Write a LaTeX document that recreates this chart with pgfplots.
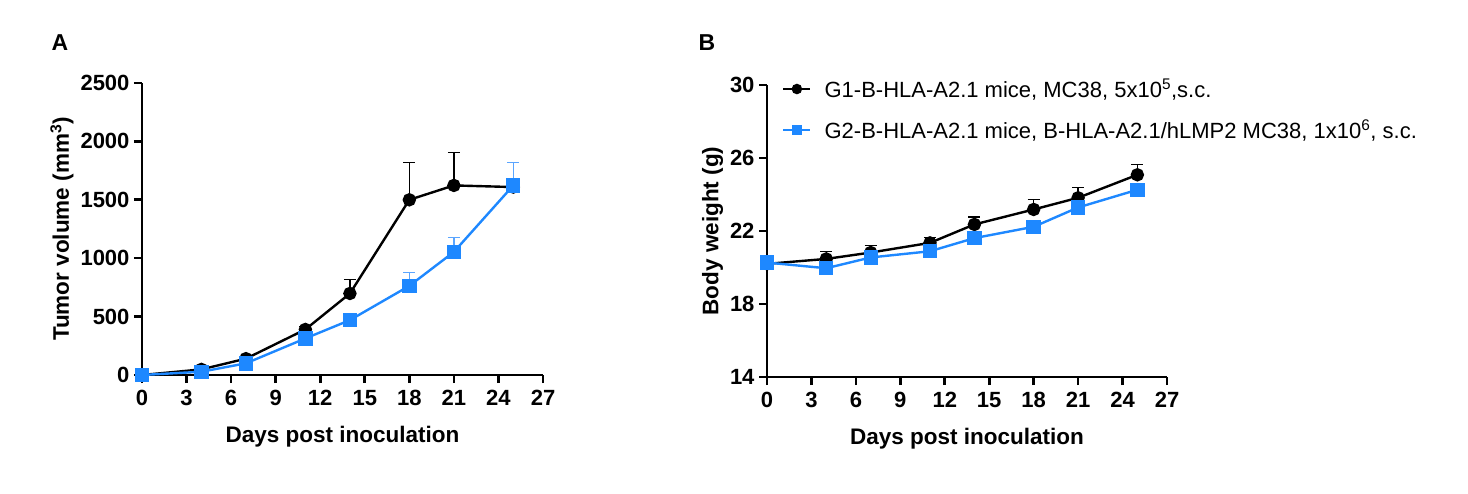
\documentclass[border=0pt]{standalone}
\usepackage{pgfplots}
\pgfplotsset{compat=1.18}
\usepackage{fontspec}
\setmainfont{Liberation Sans}
\definecolor{gblue}{RGB}{30,136,255}
\definecolor{gblueerr}{RGB}{90,165,255}
\begin{document}
\begin{tikzpicture}
\useasboundingbox (0pt,0pt) rectangle (1468pt,493pt);
\pgfplotsset{
  every axis/.append style={
    scale only axis,
    axis x line*=bottom, axis y line*=left,
    axis line style={line width=2.6pt},
    tick align=outside,
    major tick length=8pt,
    every tick/.style={line width=2.6pt, black},
    tick label style={font=\fontsize{22}{22}\selectfont\bfseries},
    xticklabel style={yshift=-4pt},
    yticklabel style={xshift=-1pt},
    label style={font=\fontsize{22.5}{24}\selectfont\bfseries},
    /pgf/number format/assume math mode=true,
    /pgf/number format/1000 sep={},
    xmin=0, xmax=27, xtick={0,3,...,27},
    clip=false,
    error bars/y dir=plus, error bars/y explicit,
    error bars/error mark=-,
    error bars/error mark options={rotate=90, mark size=6pt, line width=1.3pt},
  },
  blk/.style={black, line width=2.4pt, mark=*, mark size=5.5pt,
    error bars/error bar style={line width=1.3pt, black}},
  blu/.style={gblue, line width=2.4pt, mark=square*, mark size=6pt,
    error bars/error bar style={line width=1.3pt, gblueerr},
    error bars/error mark options={rotate=90, mark size=6pt, line width=1.3pt, gblueerr}},
}
\node[font=\fontsize{23}{23}\selectfont\bfseries] at (60pt,450pt) {A};
\node[font=\fontsize{23}{23}\selectfont\bfseries] at (707pt,450pt) {B};
\begin{axis}[at={(142pt,118pt)}, anchor=south west, width=401pt, height=292pt,
  ymin=0, ymax=2500, ytick={0,500,...,2500},
  xlabel={Days post inoculation}, ylabel={Tumor volume (mm\textsuperscript{3})},
  xlabel style={yshift=-13pt}, ylabel style={yshift=0pt}]
\addplot[blk] coordinates {
 (0,0) +- (0,0)
 (4,48) +- (0,8)
 (7,140) +- (0,15)
 (11,390) +- (0,25)
 (14,698) +- (0,122)
 (18,1500) +- (0,317)
 (21,1623) +- (0,279)
 (25,1609) +- (0,10)
};
\addplot[blu] coordinates {
 (0,0) +- (0,0)
 (4,28) +- (0,5)
 (7,100) +- (0,12)
 (11,313) +- (0,20)
 (14,470) +- (0,40)
 (18,763) +- (0,114)
 (21,1054) +- (0,125)
 (25,1623) +- (0,199)
};
\end{axis}
\begin{axis}[at={(767pt,116pt)}, anchor=south west, width=400pt, height=292pt,
  ymin=14, ymax=30, ytick={14,18,22,26,30},
  xlabel={Days post inoculation}, ylabel={Body weight (g)},
  xlabel style={yshift=-13pt}, ylabel style={yshift=0pt},
  legend style={at={(0,1)}, xshift=15pt, yshift=8pt, anchor=north west, draw=none, fill=none,
    font=\fontsize{22}{24}\selectfont, inner sep=0pt, row sep=17pt,
    /tikz/every odd column/.append style={column sep=11pt}},
  legend cell align=left,
  legend image code/.code={\draw[#1, mark repeat=2, mark phase=2, line width=2.4pt, mark size=4pt]
     plot coordinates {(0pt,0pt) (13.5pt,0pt) (27pt,0pt)};},
  ]
\addplot[blk] coordinates {
 (0,20.20) +- (0,0.15)
 (4,20.47) +- (0,0.42)
 (7,20.82) +- (0,0.38)
 (11,21.35) +- (0,0.29)
 (14,22.36) +- (0,0.40)
 (18,23.18) +- (0,0.55)
 (21,23.82) +- (0,0.57)
 (25,25.08) +- (0,0.57)
};
\addlegendentry{G1-B-HLA-A2.1 mice, MC38, 5x10\textsuperscript{5},s.c.}
\addplot[blu] coordinates {
 (0,20.27) +- (0,0.15)
 (4,19.96) +- (0,0.15)
 (7,20.55) +- (0,0.15)
 (11,20.89) +- (0,0.15)
 (14,21.61) +- (0,0.15)
 (18,22.23) +- (0,0.15)
 (21,23.29) +- (0,0.15)
 (25,24.26) +- (0,0.15)
};
\addlegendentry{G2-B-HLA-A2.1 mice, B-HLA-A2.1/hLMP2 MC38, 1x10\textsuperscript{6}, s.c.}
\end{axis}
\end{tikzpicture}
\end{document}
